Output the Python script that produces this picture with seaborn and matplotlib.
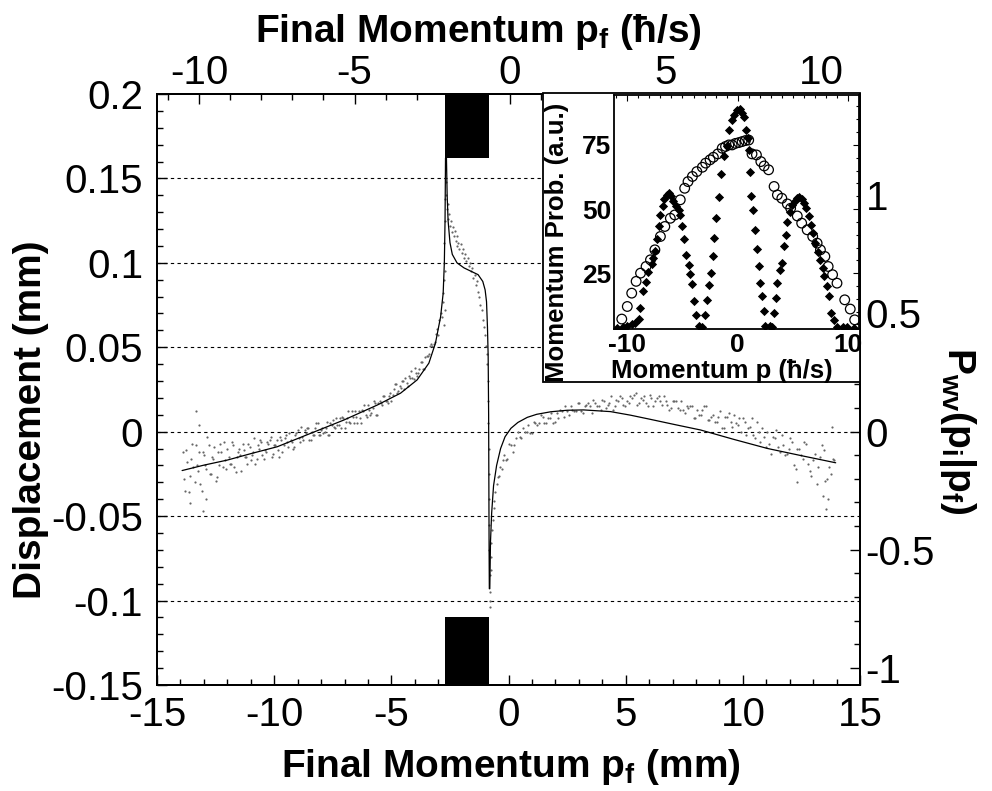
import matplotlib
matplotlib.use("Agg")
import matplotlib.pyplot as plt
import seaborn as sns
from matplotlib.patches import Rectangle
from matplotlib.ticker import MultipleLocator

cloud_left_x = [
    -13.9, -13.8, -13.7, -13.6, -13.5, -13.4, -13.3, -13.2, -13.1, -13.0,
    -12.9, -12.8, -12.7, -12.6, -12.5, -12.4, -12.3, -12.2, -12.1, -12.0,
    -11.9, -11.8, -11.7, -11.6, -11.5, -11.4, -11.3, -11.2, -11.1, -11.0,
    -10.9, -10.8, -10.7, -10.6, -10.5, -10.4, -10.3, -10.2, -10.1, -10.0,
    -9.9, -9.8, -9.7, -9.6, -9.5, -9.4, -9.3, -9.2, -9.1, -9.0,
    -8.9, -8.8, -8.7, -8.6, -8.5, -8.4, -8.3, -8.2, -8.1, -8.0,
    -7.9, -7.8, -7.7, -7.6, -7.5, -7.4, -7.3, -7.2, -7.1, -7.0,
    -6.9, -6.8, -6.7, -6.6, -6.5, -6.4, -6.3, -6.2, -6.1, -6.0,
    -5.9, -5.8, -5.7, -5.6, -5.5, -5.4, -5.3, -5.2, -5.1, -5.0,
    -4.9, -4.8, -4.7, -4.6, -4.5, -4.4, -4.3, -4.2, -4.1, -4.0,
    -3.9, -3.8, -3.7, -3.6, -3.5, -3.4, -3.3, -3.2, -3.1, -3.0,
    -2.95, -2.9, -2.85, -2.8, -2.78, -2.76, -2.75, -2.74, -2.73, -2.72,
    -2.71, -2.70, -2.69, -2.76,
    -13.35, -13.2, -13.05, -12.9, -13.6,
]
cloud_left_y = [
    -0.012, -0.035, -0.018, -0.026, -0.007, -0.030, -0.020, -0.012, -0.035, -0.014,
    -0.022, -0.008, -0.025, -0.016, -0.029, -0.012, -0.007, -0.021, -0.017, -0.010,
    -0.019, -0.006, -0.021, -0.015, -0.010, -0.023, -0.011, -0.015, -0.007, -0.017,
    -0.012, -0.019, -0.008, -0.005, -0.014, -0.011, -0.006, -0.005, -0.015, -0.008,
    -0.005, -0.015, -0.005, -0.008, -0.002, -0.009, -0.005, -0.010, -0.002, 0.001,
    -0.006, -0.003, 0.001, 0.002, -0.005, 0.000, -0.002, 0.005, -0.002, 0.001,
    -0.001, 0.002, -0.002, 0.005, 0.007, 0.002, 0.004, 0.008, 0.009, 0.002,
    0.008, 0.006, 0.012, 0.005, 0.009, 0.012, 0.005, 0.012, 0.010, 0.016,
    0.010, 0.014, 0.017, 0.010, 0.018, 0.016, 0.021, 0.018, 0.021, 0.018,
    0.025, 0.028, 0.024, 0.026, 0.030, 0.032, 0.027, 0.032, 0.032, 0.038,
    0.033, 0.037, 0.041, 0.037, 0.045, 0.046, 0.052, 0.052, 0.058, 0.057,
    0.066, 0.070, 0.068, 0.077, 0.082, 0.090, 0.100, 0.112, 0.125, 0.138,
    0.095, 0.072, 0.148, 0.063,
    0.012, 0.004, -0.047, -0.040, -0.042,
]
# second, interleaved set of dots on the left branch
cloud_left2_x = [
    -13.85, -13.75, -13.65, -13.55, -13.45, -13.35, -13.25, -13.15, -13.05, -12.95,
    -12.85, -12.75, -12.65, -12.55, -12.45, -12.35, -12.25, -12.15, -12.05, -11.95,
    -11.85, -11.75, -11.65, -11.55, -11.45, -11.35, -11.25, -11.15, -11.05, -10.95,
    -10.85, -10.75, -10.65, -10.55, -10.45, -10.35, -10.25, -10.15, -10.05, -9.95,
    -9.85, -9.75, -9.65, -9.55, -9.45, -9.35, -9.25, -9.15, -9.05, -8.95,
    -8.85, -8.75, -8.65, -8.55, -8.45, -8.35, -8.25, -8.15, -8.05, -7.95,
    -7.85, -7.75, -7.65, -7.55, -7.45, -7.35, -7.25, -7.15, -7.05, -6.95,
    -6.85, -6.75, -6.65, -6.55, -6.45, -6.35, -6.25, -6.15, -6.05, -5.95,
    -5.85, -5.75, -5.65, -5.55, -5.45, -5.35, -5.25, -5.15, -5.05, -4.95,
    -4.85, -4.75, -4.65, -4.55, -4.45, -4.35, -4.25, -4.15, -4.05, -3.95,
    -3.85, -3.75, -3.65, -3.55, -3.45, -3.35, -3.25, -3.15, -3.05,
]
cloud_left2_y = [
    -0.028, -0.011, -0.036, -0.016, -0.021, -0.008, -0.023, -0.031, -0.012, -0.020,
    -0.003, -0.025, -0.015, -0.009, -0.027, -0.020, -0.012, -0.006, -0.022, -0.015,
    -0.019, -0.008, -0.024, -0.012, -0.014, -0.007, -0.015, -0.019, -0.009, -0.014,
    -0.004, -0.016, -0.010, -0.006, -0.016, -0.012, -0.007, -0.003, -0.013, -0.008,
    -0.011, -0.003, -0.012, -0.004, -0.006, -0.001, -0.006, -0.009, -0.001, -0.004,
    0.003, -0.005, -0.001, 0.002, -0.005, -0.002, 0.002, 0.005, -0.002, 0.002,
    0.000, 0.006, -0.002, 0.004, 0.003, 0.008, 0.004, 0.002, 0.008, 0.006,
    0.012, 0.005, 0.009, 0.012, 0.005, 0.008, 0.013, 0.016, 0.009, 0.013,
    0.011, 0.018, 0.010, 0.017, 0.017, 0.021, 0.018, 0.017, 0.023, 0.022,
    0.028, 0.023, 0.027, 0.030, 0.025, 0.029, 0.033, 0.036, 0.031, 0.035,
    0.035, 0.041, 0.037, 0.044, 0.045, 0.051, 0.051, 0.053, 0.061,
]
cloud_mid_x = [
    -2.66, -2.63, -2.60, -2.57, -2.54, -2.50, -2.46, -2.42, -2.38, -2.34,
    -2.30, -2.26, -2.22, -2.18, -2.14, -2.10, -2.05, -2.00, -1.95, -1.90,
    -1.85, -1.80, -1.75, -1.70, -1.65, -1.60, -1.55, -1.50, -1.45, -1.40,
    -1.35, -1.30, -1.25, -1.20, -1.15, -1.10, -1.05, -1.00, -0.96, -0.93,
    -0.90, -0.88, -0.87, -0.86, -0.85, -0.84, -0.83, -0.82, -0.82, -0.81,
    -0.81, -0.80,
]
cloud_mid_y = [
    0.140, 0.132, 0.135, 0.126, 0.129, 0.122, 0.125, 0.118, 0.121, 0.116,
    0.119, 0.113, 0.116, 0.110, 0.112, 0.108, 0.111, 0.106, 0.108, 0.103,
    0.105, 0.101, 0.103, 0.098, 0.100, 0.095, 0.097, 0.091, 0.093, 0.087,
    0.089, 0.083, 0.080, 0.075, 0.072, 0.066, 0.062, 0.057, 0.051, 0.046,
    0.040, 0.030, 0.018, 0.005, -0.010, -0.025, -0.040, -0.055, -0.070, -0.085,
    -0.100, -0.104,
]
cloud_right_x = [
    -0.79, -0.77, -0.75, -0.73, -0.70, -0.67, -0.64, -0.60, -0.56, -0.50,
    -0.45, -0.40, -0.35, -0.30, -0.25,
    -0.2, -0.05, 0.1, 0.25, 0.4, 0.55, 0.7, 0.85, 1.0, 1.15,
    1.3, 1.45, 1.6, 1.75, 1.9, 2.05, 2.2, 2.35, 2.5, 2.65,
    2.8, 2.95, 3.1, 3.25, 3.4, 3.55, 3.7, 3.85, 4.0, 4.15,
    4.3, 4.45, 4.6, 4.75, 4.9, 5.05, 5.2, 5.35, 5.5, 5.65,
    5.8, 5.95, 6.1, 6.25, 6.4, 6.55, 6.7, 6.85, 7.0, 7.15,
    7.3, 7.45, 7.6, 7.75, 7.9, 8.05, 8.2, 8.35, 8.5, 8.65,
    8.8, 8.95, 9.1, 9.25, 9.4, 9.55, 9.7, 9.85, 10.0, 10.15,
    10.3, 10.45, 10.6, 10.75, 10.9, 11.05, 11.2, 11.35, 11.5, 11.65,
    11.8, 11.95, 12.1, 12.25, 12.4, 12.55, 12.7, 12.85, 13.0, 13.15,
    13.3, 13.45, 13.6, 13.75, 13.9,
    13.65, 13.4, 13.8, 12.3, 13.55,
]
cloud_right_y = [
    -0.095, -0.082, -0.074, -0.066, -0.058, -0.052, -0.045, -0.041, -0.036, -0.031,
    -0.027, -0.026, -0.021, -0.022, -0.017,
    -0.014, -0.016, -0.008, -0.008, 0.000, -0.004, 0.000, 0.004, -0.001, 0.005,
    0.005, 0.009, 0.005, 0.008, 0.005, 0.011, 0.013, 0.009, 0.012, 0.015,
    0.012, 0.017, 0.012, 0.015, 0.017, 0.011, 0.017, 0.015, 0.019, 0.014,
    0.017, 0.013, 0.019, 0.021, 0.016, 0.018, 0.021, 0.022, 0.016, 0.020,
    0.021, 0.015, 0.020, 0.018, 0.021, 0.016, 0.018, 0.013, 0.018, 0.018,
    0.013, 0.013, 0.015, 0.015, 0.008, 0.013, 0.010, 0.015, 0.007, 0.009,
    0.006, 0.009, 0.002, 0.009, 0.011, 0.003, 0.005, 0.008, 0.008, -0.002,
    0.003, -0.002, 0.006, -0.006, -0.003, 0.000, -0.013, -0.004, -0.009, -0.002,
    -0.014, -0.010, -0.006, -0.022, -0.010, -0.016, -0.007, -0.023, -0.017, -0.031,
    -0.015, -0.011, -0.028, -0.025, -0.017,
    -0.040, -0.038, 0.003, -0.030, -0.046,
]
# second, interleaved set of dots on the right branch
cloud_right2_x = [
    -0.125, 0.025, 0.175, 0.325, 0.475, 0.625, 0.775, 0.925, 1.075, 1.225,
    1.375, 1.525, 1.675, 1.825, 1.975, 2.125, 2.275, 2.425, 2.575, 2.725,
    2.875, 3.025, 3.175, 3.325, 3.475, 3.625, 3.775, 3.925, 4.075, 4.225,
    4.375, 4.525, 4.675, 4.825, 4.975, 5.125, 5.275, 5.425, 5.575, 5.725,
    5.875, 6.025, 6.175, 6.325, 6.475, 6.625, 6.775, 6.925, 7.075, 7.225,
    7.375, 7.525, 7.675, 7.825, 7.975, 8.125, 8.275, 8.425, 8.575, 8.725,
    8.875, 9.025, 9.175, 9.325, 9.475, 9.625, 9.775, 9.925, 10.075, 10.225,
    10.375, 10.525, 10.675, 10.825, 10.975, 11.125, 11.275, 11.425, 11.575, 11.725,
    11.875, 12.025, 12.175, 12.325, 12.475, 12.625, 12.775, 12.925, 13.075, 13.225,
    13.375, 13.525, 13.675, 13.825,
]
cloud_right2_y = [
    -0.017, -0.007, -0.012, -0.004, -0.003, 0.002, 0.000, -0.001, 0.006, 0.004,
    0.010, 0.005, 0.008, 0.011, 0.006, 0.008, 0.012, 0.015, 0.010, 0.013,
    0.012, 0.017, 0.011, 0.016, 0.015, 0.019, 0.015, 0.013, 0.018, 0.016,
    0.021, 0.015, 0.018, 0.020, 0.015, 0.017, 0.020, 0.023, 0.017, 0.019,
    0.017, 0.022, 0.015, 0.020, 0.018, 0.021, 0.016, 0.014, 0.018, 0.014,
    0.018, 0.011, 0.014, 0.015, 0.008, 0.010, 0.013, 0.015, 0.007, 0.010,
    0.006, 0.012, 0.002, 0.009, 0.006, 0.010, 0.004, 0.000, 0.006, 0.002,
    0.008, -0.004, 0.000, 0.002, -0.009, -0.007, -0.003, 0.001, -0.012, -0.008,
    -0.013, -0.004, -0.020, -0.010, -0.014, -0.006, -0.019, -0.026, -0.013, -0.021,
    -0.008, -0.029, -0.021, -0.016,
]

# ---- main panel: theory curve ----
fit_x = [
    -13.93, -13.0, -12.0, -11.0, -9.87, -8.45, -7.03, -5.6, -4.61, -3.9,
    -3.4, -3.12, -2.9, -2.79, -2.74, -2.71, -2.69,
    -2.65, -2.62, -2.58, -2.5, -2.4, -2.2, -1.9, -1.6, -1.3, -1.1,
    -1.0, -0.94, -0.9, -0.87, -0.85, -0.84, -0.83, -0.82,
    -0.80, -0.77, -0.72, -0.64, -0.51, -0.34, -0.15, 0.1, 0.4, 0.8,
    1.2, 1.8, 2.5, 3.2, 4.35, 5.2, 6.06, 7.1, 8.2, 9.6,
    11.04, 12.5, 13.96,
]
fit_y = [
    -0.023, -0.0198, -0.0168, -0.0130, -0.0089, -0.001, 0.0069, 0.0158, 0.0228, 0.0307,
    0.0406, 0.0524, 0.068, 0.082, 0.100, 0.125, 0.162,
    0.162, 0.140, 0.125, 0.112, 0.105, 0.100, 0.097, 0.095, 0.093, 0.089,
    0.084, 0.077, 0.062, 0.045, 0.010, -0.030, -0.070, -0.093,
    -0.093, -0.065, -0.048, -0.032, -0.020, -0.010, -0.003, 0.002, 0.0055, 0.0085,
    0.0103, 0.0118, 0.0127, 0.0129, 0.0119, 0.0098, 0.0073, 0.0042, 0.001, -0.0045,
    -0.0099, -0.0142, -0.0184,
]

# black blocks (mm) and dotted reference levels
block_x = [-2.73, -0.85]
block_top = [0.162, 0.2]
block_bottom = [-0.15, -0.11]
grid_levels = [0.15, 0.1, 0.05, 0.0, -0.05, -0.1]

# axis ticks
x_ticks = [-15, -10, -5, 0, 5, 10, 15]
x_labels = ["-15", "-10", "-5", "0", "5", "10", "15"]
y_ticks = [-0.15, -0.1, -0.05, 0, 0.05, 0.1, 0.15, 0.2]
y_labels = ["-0.15", "-0.1", "-0.05", "0", "0.05", "0.1", "0.15", "0.2"]
top_ticks = [-10, -5, 0, 5, 10]
top_labels = ["-10", "-5", "0", "5", "10"]
right_ticks = [-1, -0.5, 0, 0.5, 1]
right_labels = ["-1", "-0.5", "0", "0.5", "1"]

# ---- inset: momentum distributions ----
circ_x = [-10.5, -10.0, -9.6, -9.2, -8.8, -8.3, -7.9, -7.5, -7.0, -6.6,
          -6.1, -5.7, -5.2, -4.8, -4.5, -4.1, -3.7, -3.2, -2.9, -2.5,
          -2.2, -1.8, -1.4, -1.1, -0.8, -0.5, -0.2, 0.1, 0.4, 0.7,
          1.0, 1.3, 1.7, 2.1, 2.4, 2.8, 3.3, 3.6, 4.0, 4.5,
          4.8, 5.4, 5.8, 6.3, 6.8, 7.2, 7.5, 7.9, 8.2, 8.6,
          9.0, 9.7, 10.2, 10.6]
circ_y = [7.1, 12.0, 17.2, 21.8, 25.0, 27.6, 30.2, 34.1, 39.3, 43.2,
          46.4, 47.7, 53.6, 58.1, 60.7, 62.7, 64.6, 66.3, 67.9, 69.2,
          70.2, 71.5, 73.7, 74.4, 75.0, 75.0, 75.6, 75.9, 76.3, 76.7,
          76.9, 71.5, 71.1, 68.5, 66.8, 65.3, 58.8, 55.5, 54.2, 52.0,
          50.3, 47.3, 44.5, 41.9, 39.3, 36.7, 34.1, 31.5, 27.6, 24.4,
          21.1, 14.6, 11.0, 6.8]
diam_x = [-10.9, -10.4, -10.0, -9.6, -9.3, -8.9, -8.85, -8.6, -8.3, -8.1,
          -7.8, -7.7, -7.5, -7.3, -7.15, -7.0, -6.8, -6.65, -6.4, -6.2,
          -6.05, -5.9, -5.6, -5.3, -5.2, -5.0, -4.85, -4.65, -4.45, -4.3,
          -4.1, -3.95, -3.75, -3.5, -3.25,
          -2.95, -2.8, -2.6, -2.45, -2.25, -2.1, -1.95, -1.7, -1.5, -1.25,
          -1.0, -0.8, -0.5, -0.3, -0.05, 0.2, 0.35, 0.55, 0.8, 0.95,
          1.0, 1.15, 1.25, 1.4, 1.6, 1.75, 1.9, 2.05, 2.2, 2.35,
          2.5, 2.95,
          3.1, 3.3, 3.5, 3.6, 3.8, 4.0, 4.2, 4.35, 4.5, 4.7,
          4.9, 5.15, 5.35, 5.55, 5.8, 6.0, 6.2, 6.45, 6.65, 6.85,
          7.05, 7.25, 7.5, 7.7, 7.85, 8.05, 8.25, 8.45, 8.7, 9.0,
          9.5, 9.9, 10.5]
diam_y = [3.6, 4.0, 4.5, 5.1, 5.5, 7.1, 11.4, 18.2, 21.5, 25.3,
          28.5, 30.8, 33.8, 38.2, 43.2, 47.7, 51.2, 53.8, 55.5, 56.2,
          55.1, 53.3, 51.0, 49.5, 47.7, 43.2, 38.2, 32.1, 28.0, 24.7,
          20.8, 14.0, 8.8, 4.2, 4.0,
          8.8, 14.4, 20.5, 25.0, 31.5, 38.6, 46.4, 54.6, 63.7, 70.7,
          74.4, 80.8, 84.7, 86.7, 88.6, 88.9, 87.3, 85.8, 80.8, 77.6,
          73.1, 64.6, 54.9, 49.7, 41.9, 34.4, 27.6, 21.1, 15.9, 10.1,
          4.2, 4.2,
          4.0, 9.4, 15.3, 21.1, 26.3, 28.9, 35.4, 39.9, 45.1, 49.0,
          51.6, 53.3, 54.2, 54.6, 53.8, 52.5, 50.3, 47.1, 43.8, 40.6,
          36.7, 33.4, 30.2, 27.0, 23.7, 19.8, 15.9, 9.4, 6.8, 4.0,
          4.0, 4.0, 3.6]

# ---- style ----
sns.set_theme(style="white")
plt.rcParams["font.family"] = ["Liberation Sans", "DejaVu Sans"]
plt.rcParams["axes.unicode_minus"] = False
plt.rcParams["mathtext.fontset"] = "custom"
plt.rcParams["mathtext.rm"] = "Liberation Sans"
plt.rcParams["mathtext.bf"] = "Liberation Sans:bold"
plt.rcParams["mathtext.default"] = "bf"
for key in ("text.color", "axes.labelcolor", "xtick.color", "ytick.color"):
    plt.rcParams[key] = "black"

TICK_FS = 29
LABEL_FS = 28
SPINE_W = 1.3

fig = plt.figure(figsize=(9.92, 7.91), dpi=100)
ax = fig.add_axes([0.1583, 0.1340, 0.7087, 0.7472])

for lev in grid_levels:
    ax.axhline(lev, color="black", lw=0.8, ls=(0, (3, 3)), zorder=1)

all_x = cloud_left_x + cloud_left2_x + cloud_mid_x + cloud_right_x + cloud_right2_x
all_y = cloud_left_y + cloud_left2_y + cloud_mid_y + cloud_right_y + cloud_right2_y
sns.scatterplot(x=all_x, y=all_y, ax=ax, s=2.5, color="0.4", linewidth=0, zorder=2)
sns.lineplot(x=fit_x, y=fit_y, ax=ax, sort=False, estimator=None,
             color="black", lw=0.9, zorder=4)

for lo, hi in (block_top, block_bottom):
    ax.bar([block_x[0]], [hi - lo], bottom=lo, width=block_x[1] - block_x[0],
           align="edge", color="black", linewidth=0, zorder=5)

ax.set_xlim(-15, 15)
ax.set_ylim(-0.15, 0.2)
ax.set_xticks(x_ticks)
ax.set_xticklabels(x_labels)
ax.set_yticks(y_ticks)
ax.set_yticklabels(y_labels)
ax.xaxis.set_minor_locator(MultipleLocator(1))
ax.yaxis.set_minor_locator(MultipleLocator(0.01))
ax.tick_params(which="both", direction="in", top=False, right=False,
               labelsize=TICK_FS, color="black", width=1)
ax.tick_params(which="major", length=7.5)
ax.tick_params(which="minor", length=4.5)
ax.tick_params(axis="x", pad=8)
ax.tick_params(axis="y", pad=10)
ax.set_xlabel("Final Momentum p$_f$ (mm)", fontsize=LABEL_FS, fontweight="bold")
ax.set_ylabel("Displacement (mm)", fontsize=LABEL_FS, fontweight="bold")
ax.xaxis.set_label_coords(0.504, -0.105)
ax.yaxis.set_label_coords(-0.153, 0.448)

# right axis: P_wv(p_i|p_f)
ax_r = ax.twinx()
ax_r.set_ylim(-1.072, 1.428)
ax_r.set_yticks(right_ticks)
ax_r.set_yticklabels(right_labels)
ax_r.yaxis.set_minor_locator(MultipleLocator(0.1))
ax_r.tick_params(which="both", direction="in", labelsize=TICK_FS, width=1, pad=4)
ax_r.tick_params(which="major", length=7.5)
ax_r.tick_params(which="minor", length=4.5)
ax_r.set_ylabel("P$_{wv}$(p$_i$|p$_f$)", fontsize=LABEL_FS, fontweight="bold",
                rotation=270)
ax_r.yaxis.set_label_coords(1.168, 0.43)

# top axis: momentum in hbar/s
ax_t = ax.twiny()
ax_t.set_xlim(-11.35, 11.25)
ax_t.set_xticks(top_ticks)
ax_t.set_xticklabels(top_labels)
ax_t.xaxis.set_minor_locator(MultipleLocator(1))
ax_t.tick_params(which="both", direction="in", labelsize=TICK_FS, width=1, pad=1.5)
ax_t.tick_params(which="major", length=7.5)
ax_t.tick_params(which="minor", length=4.5)
ax_t.set_xlabel("Final Momentum p$_f$ (ħ/s)", fontsize=LABEL_FS, fontweight="bold")
ax_t.xaxis.set_label_coords(0.457, 1.088)

for a in (ax, ax_r, ax_t):
    for sp in a.spines.values():
        sp.set_color("black")
        sp.set_linewidth(SPINE_W)

# inset frame + inset axes
fig.add_artist(Rectangle((0.547, 0.517), 0.3196, 0.365, transform=fig.transFigure,
                         facecolor="white", edgecolor="black", lw=SPINE_W, zorder=1))
ins = fig.add_axes([0.619, 0.584, 0.247, 0.296])
ins.set_zorder(2)
sns.scatterplot(x=circ_x, y=circ_y, ax=ins, marker="o", s=48,
                facecolor="none", edgecolor="black", linewidth=0.9, zorder=3)
sns.scatterplot(x=diam_x, y=diam_y, ax=ins, marker="D", s=22,
                color="black", linewidth=0, zorder=4)
ins.set_xlim(-11.2, 11.0)
ins.set_ylim(3.2, 94.5)
ins.set_xticks([-10, 0, 10])
ins.set_xticklabels(["-10", "0", "10"])
ins.set_yticks([25, 50, 75])
ins.set_yticklabels(["25", "50", "75"])
ins.xaxis.set_minor_locator(MultipleLocator(1))
ins.yaxis.set_minor_locator(MultipleLocator(5))
ins.tick_params(which="both", direction="in", top=True, right=True,
                labelsize=19, width=0.8)
ins.tick_params(which="major", length=4)
ins.tick_params(which="minor", length=2.5)
ins.tick_params(axis="x", pad=3)
ins.tick_params(axis="y", pad=2)
for lab in ins.get_xticklabels() + ins.get_yticklabels():
    lab.set_fontweight("bold")
ins.set_xlabel("Momentum p (ħ/s)", fontsize=18.5, fontweight="bold")
ins.set_ylabel("Momentum Prob. (a.u.)", fontsize=18.5, fontweight="bold")
ins.xaxis.set_label_coords(0.44, -0.128)
ins.yaxis.set_label_coords(-0.185, 0.372)
for sp in ins.spines.values():
    sp.set_color("black")
    sp.set_linewidth(SPINE_W)

fig.savefig("out.png", dpi=100)
